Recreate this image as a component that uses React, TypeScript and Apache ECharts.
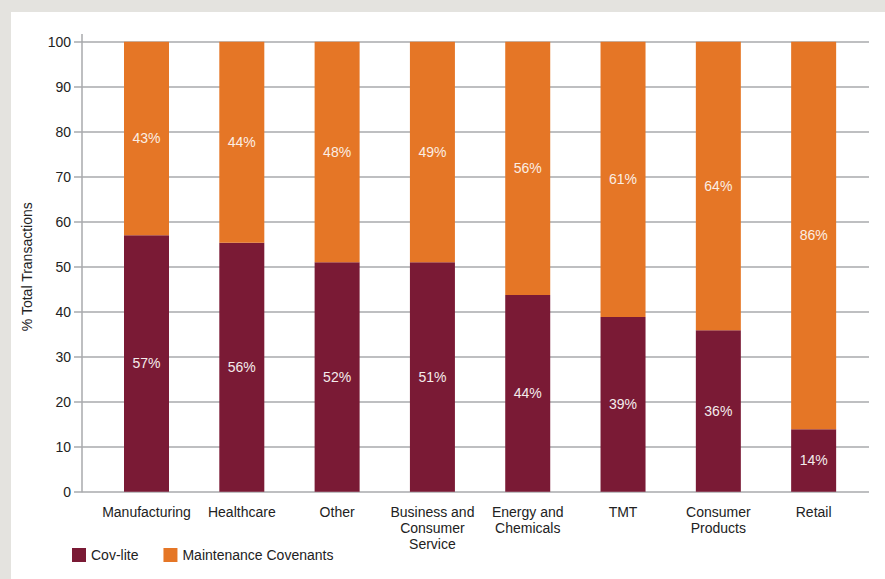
import React, { useEffect, useRef } from "react";
import * as echarts from "echarts";

const categories = [
  "Manufacturing",
  "Healthcare",
  "Other",
  "Business and\nConsumer\nService",
  "Energy and\nChemicals",
  "TMT",
  "Consumer\nProducts",
  "Retail",
];
const covLite = [57.0, 55.3, 51.0, 51.0, 43.7, 38.8, 35.9, 13.9];
const maintenance = [43.0, 44.7, 49.0, 49.0, 56.3, 61.2, 64.1, 86.1];
const covLiteLabels = ["57%", "56%", "52%", "51%", "44%", "39%", "36%", "14%"];
const maintenanceLabels = ["43%", "44%", "48%", "49%", "56%", "61%", "64%", "86%"];

const FONT = "'Liberation Sans', Arial, Helvetica, sans-serif";
const GRID = "#a9aaad";
const FS = 14;

export default function App() {
  const ref = useRef<HTMLDivElement>(null);
  useEffect(() => {
    document.body.style.margin = "0";
    const chart = echarts.init(ref.current!, null, { renderer: "svg" });
    chart.setOption({
      animation: false,
      backgroundColor: "transparent",
      textStyle: { fontFamily: FONT },
      grid: [
        { left: 82, top: 41.7, right: 16, bottom: 87.3 },
        { left: 98.85, top: 41.7, right: 23.7, bottom: 87.3 },
      ],
      graphic: [
        {
          type: "line",
          shape: { x1: 82, y1: 34, x2: 82, y2: 42 },
          style: { stroke: GRID, lineWidth: 1.5 },
        },
      ],
      legend: {
        left: 67,
        top: 543,
        itemWidth: 14,
        itemHeight: 14,
        itemGap: 25,
        icon: "rect",
        textStyle: { fontSize: FS, color: "#222", fontFamily: FONT },
        data: ["Cov-lite", "Maintenance Covenants"],
      },
      xAxis: [
        {
          gridIndex: 0,
          type: "category",
          data: categories,
          show: false,
        },
        {
          gridIndex: 1,
          type: "category",
          data: categories,
          axisLine: { show: false },
          axisTick: { show: false },
          splitLine: { show: false },
          axisLabel: {
            fontSize: FS,
            lineHeight: 16,
            color: "#222",
            margin: 12,
            interval: 0,
            fontFamily: FONT,
          },
        },
      ],
      yAxis: [
        {
          gridIndex: 0,
          type: "value",
          min: 0,
          max: 100,
          interval: 10,
          name: "% Total Transactions",
          nameLocation: "middle",
          nameGap: 48,
          nameTextStyle: { fontSize: FS, color: "#222", fontFamily: FONT },
          axisLine: { show: true, lineStyle: { color: GRID, width: 1.5 } },
          axisTick: { show: true, length: 8, lineStyle: { color: GRID, width: 1.5 } },
          splitLine: { show: true, lineStyle: { color: GRID, width: 1.5 } },
          axisLabel: { fontSize: FS, color: "#222", margin: 11, fontFamily: FONT },
        },
        {
          gridIndex: 1,
          type: "value",
          min: 0,
          max: 100,
          interval: 10,
          show: false,
          splitLine: { show: false },
        },
      ],
      series: [
        {
          name: "Cov-lite",
          type: "bar",
          stack: "total",
          xAxisIndex: 1,
          yAxisIndex: 1,
          barWidth: 45,
          itemStyle: { color: "#7a1a35" },
          data: covLite,
          label: {
            show: true,
            position: "inside",
            color: "#f4ecec",
            fontSize: FS,
            fontFamily: FONT,
            formatter: (p: any) => covLiteLabels[p.dataIndex],
          },
        },
        {
          name: "Maintenance Covenants",
          type: "bar",
          stack: "total",
          xAxisIndex: 1,
          yAxisIndex: 1,
          barWidth: 45,
          itemStyle: { color: "#e57626" },
          data: maintenance,
          label: {
            show: true,
            position: "inside",
            color: "#fbeee4",
            fontSize: FS,
            fontFamily: FONT,
            formatter: (p: any) => maintenanceLabels[p.dataIndex],
          },
        },
      ],
    });
    return () => chart.dispose();
  }, []);
  return (
    <div style={{ position: "relative", width: 885, height: 579, background: "#e4e3df" }}>
      <div style={{ position: "absolute", left: 11, top: 12, right: 0, bottom: 0, background: "#fff" }} />
      <div ref={ref} style={{ position: "absolute", left: 0, top: 0, width: 885, height: 579 }} />
    </div>
  );
}
